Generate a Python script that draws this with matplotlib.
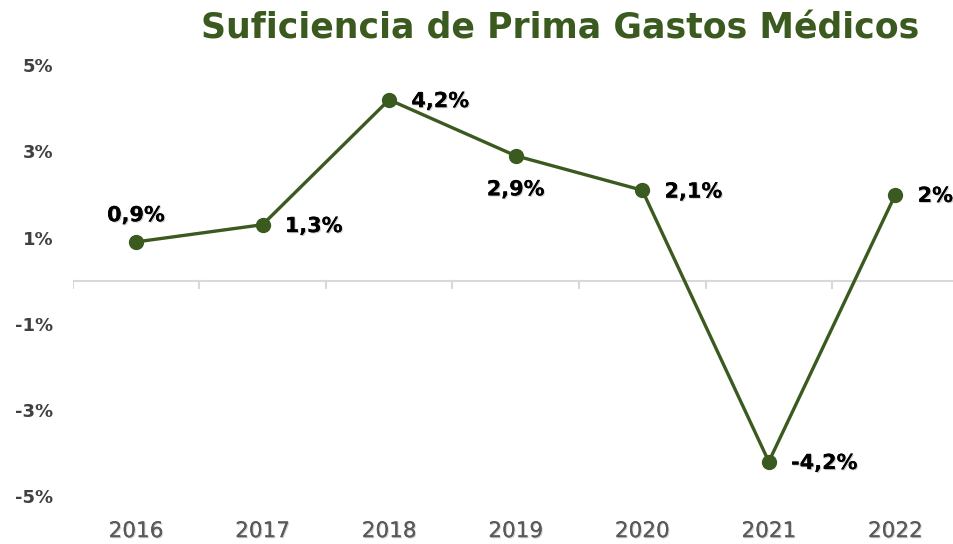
import matplotlib.pyplot as plt
import matplotlib.patheffects as pe

years = ["2016", "2017", "2018", "2019", "2020", "2021", "2022"]
suficiencia = [0.9, 1.3, 4.2, 2.9, 2.1, -4.2, 2.0]
etiquetas = ["0,9%", "1,3%", "4,2%", "2,9%", "2,1%", "-4,2%", "2%"]
# where each data label sits relative to its point
posicion = ["above", "right", "right", "below", "right", "right", "right"]

verde = "#3b5a1f"
sombra = [pe.withSimplePatchShadow(offset=(0.8, -0.8), alpha=0.2), pe.Normal()]

fig = plt.figure(figsize=(9.54, 5.44), dpi=100)
ax = fig.add_axes([0.0762, 0.088, 0.9287, 0.792])

x = list(range(len(years)))
ax.plot(x, suficiencia, color=verde, lw=2.4, marker="o", ms=10, zorder=3)

for i, (v, t, p) in enumerate(zip(suficiencia, etiquetas, posicion)):
    if p == "above":
        ax.annotate(t, (i, v), xytext=(0, 12), textcoords="offset points",
                    ha="center", va="bottom", fontsize=15, fontweight="bold",
                    color="black", path_effects=sombra)
    elif p == "below":
        ax.annotate(t, (i, v), xytext=(0, -17), textcoords="offset points",
                    ha="center", va="top", fontsize=15, fontweight="bold",
                    color="black", path_effects=sombra)
    else:
        ax.annotate(t, (i, v), xytext=(16, -1), textcoords="offset points",
                    ha="left", va="center", fontsize=15, fontweight="bold",
                    color="black", path_effects=sombra)

ax.set_xlim(-0.5, len(years) - 0.5)
ax.set_ylim(-5, 5)

# zero line with category-boundary ticks
ax.axhline(0, color="#d9d9d9", lw=1.5, zorder=1)
for b in range(len(years) + 1):
    ax.plot([b - 0.5, b - 0.5], [0, -0.17], color="#d9d9d9", lw=1.5, zorder=1)

ax.set_xticks(x)
ax.set_xticklabels(years)
ax.set_yticks([5, 3, 1, -1, -3, -5])
ax.set_yticklabels(["5%", "3%", "1%", "-1%", "-3%", "-5%"])
ax.tick_params(axis="x", length=0, pad=18, labelsize=15.5, labelcolor="#595959")
ax.tick_params(axis="y", length=0, pad=14, labelsize=13, labelcolor="#404040")
for lab in ax.get_yticklabels():
    lab.set_fontweight("bold")
for lab in ax.get_xticklabels():
    lab.set_path_effects(sombra)

for s in ax.spines.values():
    s.set_visible(False)

fig.text(0.587, 0.948, "Suficiencia de Prima Gastos Médicos", ha="center", va="center",
         fontsize=25, fontweight="bold", color=verde)

fig.savefig("out.png", dpi=100)
